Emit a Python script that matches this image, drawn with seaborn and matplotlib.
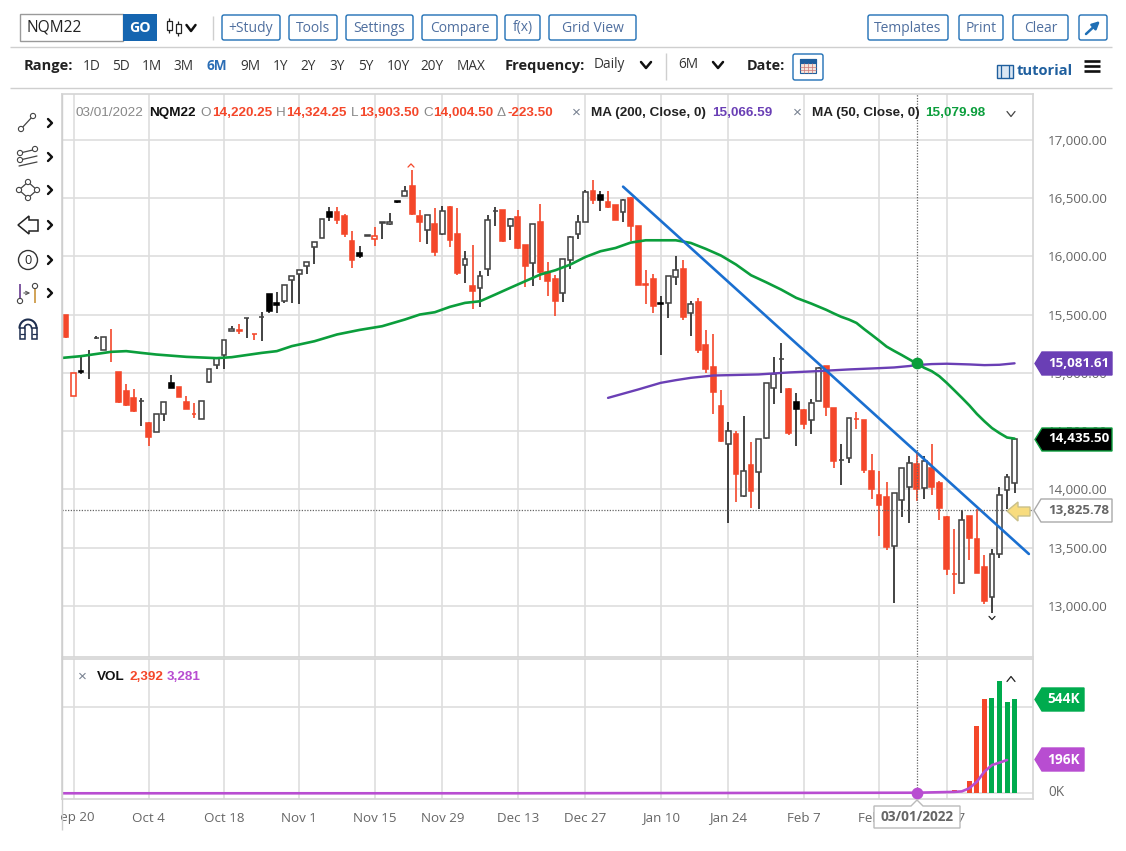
import numpy as np
import pandas as pd
import matplotlib
matplotlib.use("Agg")
import matplotlib.pyplot as plt
import seaborn as sns
from matplotlib.patches import Rectangle, Polygon, Circle, FancyBboxPatch

# --- price bars ---
opens = [15500,14797,15014,15155,15295,15200,15182,15006,14843,14786,14757,14572,14492,14649,14909,14877,14752,14645,14600,14920,
         15063,15151,15363,15365,15467,15333,15481,15680,15600,15614,15800,15846,15914,16080,16154,16377,16377,16343,16129,16029,
         16178,16146,16289,16277,16474,16517,16606,16346,16223,16274,16191,16420,16189,15923,15749,15729,15891,16387,16400,16260,
         16337,16094,15943,16294,15863,15809,15689,15971,16189,16297,16557,16529,16466,16437,16380,16500,16257,15760,15803,15596,
         15600,15823,15891,15509,15609,15240,15049,14714,14386,14477,13943,14211,14151,14440,14874,15115,14857,14749,14680,14594,
         14757,15057,14700,14252,14271,14602,14594,14157,13951,13934,13514,13906,14023,14220.25,14009,14186,14057,13763,13273,13197,
         13771,13571,13334,13080,13443,13991,14057]
highs = [15500,15000,15143,15200,15314,15306,15377,15006,14906,14857,14786,14577,14643,14749,14980,14877,14800,14743,14754,15029,
         15126,15280,15400,15420,15469,15333,15520,15680,15691,15751,15829,15886,15951,16120,16317,16423,16423,16366,16214,16086,
         16186,16251,16291,16371,16477,16606,16743,16394,16351,16414,16429,16429,16414,16043,16100,15871,16351,16423,16400,16329,
         16394,16100,16280,16449,15949,15843,15977,16171,16357,16571,16651,16557,16557,16437,16494,16506,16257,15886,15849,15657,
         15829,16000,15971,15614,15643,15371,15334,14851,14577,14500,14629,14406,14434,14909,15137,15257,14869,14823,14686,14777,
         15051,15057,14700,14391,14614,14666,14594,14300,14157,14066,13966,14183,14286,14324.25,14286,14386,14071,13771,13663,13823,
         13771,13829,13437,13486,14023,14129,14435.5]
lows = [15300,14797,14994,14951,15286,15200,15091,14743,14714,14666,14543,14372,14492,14586,14866,14792,14686,14614,14600,14914,
        15029,15034,15363,15329,15300,15280,15277,15514,15509,15600,15600,15594,15851,15937,16154,16300,16280,16166,15900,15986,
        16174,16086,16149,16271,16460,16517,16357,16120,16109,16000,16186,16077,15843,15771,15549,15566,15834,16257,16123,16137,
        16066,15737,15743,15794,15657,15491,15606,15891,16149,16297,16449,16386,16414,16314,16291,16129,15750,15594,15509,15149,
        15474,15757,15457,15314,15171,15000,14649,14409,13709,13891,13937,13843,13834,14434,14734,14829,14463,14371,14514,14471,
        14757,14629,14186,14040,14229,14514,14137,13914,13600,13480,13029,13766,13709,13903.5,13914,13951,13734,13266,13106,13191,
        13391,13280,13014,12943,13414,13829,13966]
closes = [15309,15000,15006,15157,15300,15306,15180,14749,14723,14672,14760,14449,14643,14749,14872,14792,14686,14643,14754,15029,
          15126,15280,15380,15363,15469,15331,15483,15531,15580,15751,15829,15886,15951,16120,16317,16334,16309,16194,15966,16000,
          16180,16174,16291,16297,16463,16560,16363,16297,16351,16040,16386,16137,15854,15980,15706,15831,16309,16389,16134,16320,
          16071,15914,16280,15863,15786,15614,15977,16166,16294,16554,16480,16483,16423,16314,16480,16263,15757,15757,15571,15594,
          15829,15880,15480,15589,15200,15029,14834,14417,14500,14134,14157,13983,14434,14909,14994,15117,14486,14686,14557,14737,
          15043,14706,14243,14254,14614,14600,14166,14000,13863,13506,13966,14183,14229,14004.5,14243,14023,13837,13314,13271,13734,
          13580,13286,13043,13449,13949,14109,14435.5]
# r = close under the previous close, k = above it
bar_colors = ("rrkkkkrrrrkrkkkrrrkk" "kkkrkrkkkkkkkkkkrrrk" "krkkkkrrkrkrrkrkkkrk" "rrkrrrkkkkrkrrkrrrrk"
              "kkrkrrrrkrkrkkkkrkrk" "krrkkrrrrrkkkrkrrrrk" "rrrkkkk")

ma50_bars = [-1,2,6,8,10,12,16,20,22,26,28,30,33,36,39,42,45,47,49,51,53,55,57,59,61,63,65,67,69,71,73,75,77,81,83,85,87,89,91,93,95,97,99,101,
             102,103,104,105,106,107,108,109,110,111,112,113,114,115,116,117,118,119,120,121,122,123,124,125,126]
ma50_vals = [15125,15143,15180,15186,15171,15157,15137,15126,15134,15171,15186,15229,15271,15329,15368,15400,15457,15500,15520,15566,15600,15614,15671,15729,15786,15843,15880,15929,15994,16043,16071,16117,16137,16137,16114,16063,16006,15929,15837,15777,15714,15643,15594,15540,
             15509,15480,15457,15428,15376,15327,15277,15225,15188,15153,15116,15079.98,15043,15014,14971,14913,14850,14786,14720,14647,14584,14526,14483,14445,14435.5]
ma200_bars = [72,76,79,81,83,86,88,92,96,100,104,108,110,112,113,115,117,120,122,124,126]
ma200_vals = [14785,14857,14914,14937,14957,14977,14980,14986,15003,15015,15029,15040,15046,15058,15066.59,15075,15078,15072,15066,15069,15081.61]

trend_bars = [74, 127.9]
trend_vals = [16597, 13446]

vol_bars = [113,118,119,120,121,122,123,124,125,126]
vol_vals = [2.392,19,4,71,388,544,548,650,525,544]
vol_colors = ["r","r","g","r","r","r","g","g","g","g"]
volma_bars = [-1,60,113,118,119,120,121,122,123,124,125]
volma_vals = [0,0,3.281,8,11,29,67,125,163,177,192]

tick_bars = [1,11,21,31,41,50,60,69,79,88,98,108,117]
tick_labels = ["Sep 20","Oct 4","Oct 18","Nov 1","Nov 15","Nov 29","Dec 13","Dec 27","Jan 10","Jan 24","Feb 7","Feb 21","Mar 7"]
price_ticks = [13000,13500,14000,14500,15000,15500,16000,16500,17000]

RED = "#f4472a"
GREEN = "#00ab4e"
MAGENTA = "#b84dd1"
PURPLE = "#6a3fb5"
BLUE = "#1f5f9e"
GRID = "#dedede"
W, H = 1126, 851

sns.set_theme(style="whitegrid", rc={"grid.color": GRID, "grid.linewidth": 1.2, "axes.edgecolor": "#d6d6d6"})
plt.rcParams['font.family'] = ['Open Sans', 'DejaVu Sans']

fig = plt.figure(figsize=(W / 100, H / 100), dpi=100)

def px_axes(left, top, right, bottom, **kw):
    return fig.add_axes([left / W, 1 - bottom / H, (right - left) / W, (bottom - top) / H], **kw)

ax = px_axes(62, 94, 1033, 657)
vax = px_axes(62, 659, 1033, 799)
XLIM = (-0.53, 128.45)

# --- candles ---
x = np.arange(len(opens))
wick = [RED if c == "r" else "#222222" for c in bar_colors]
ax.vlines(x, lows, highs, colors=wick, linewidth=1.2, zorder=3)
for i in x:
    edge = RED if bar_colors[i] == "r" else ("#444444" if closes[i] >= opens[i] else "black")
    fill = "white" if closes[i] >= opens[i] else (RED if bar_colors[i] == "r" else "black")
    ax.bar(i, abs(closes[i] - opens[i]), bottom=min(opens[i], closes[i]), width=0.64,
           facecolor=fill, edgecolor=edge, linewidth=1.15, zorder=4)

df50 = pd.DataFrame({"bar": ma50_bars, "val": ma50_vals})
df200 = pd.DataFrame({"bar": ma200_bars, "val": ma200_vals})
dft = pd.DataFrame({"bar": trend_bars, "val": trend_vals})
sns.lineplot(data=df200, x="bar", y="val", color=PURPLE, linewidth=1.7, ax=ax, zorder=5)
sns.lineplot(data=df50, x="bar", y="val", color="#0b9e3c", linewidth=1.9, ax=ax, zorder=5)
sns.lineplot(data=dft, x="bar", y="val", color="#1a6fd0", linewidth=1.9, ax=ax, zorder=6)

ax.set_xlim(*XLIM)
ax.set_ylim(12562, 17392)
ax.set_xticks(tick_bars)
ax.set_xticklabels([])
ax.set_yticks(price_ticks)
ax.set_yticklabels([f"{v:,.2f}" for v in price_ticks], color="#666666", fontsize=9.6)
ax.yaxis.tick_right()
ax.tick_params(axis="y", length=0, pad=11)
ax.tick_params(axis="x", length=0)
ax.set_xlabel("")
ax.set_ylabel("")

# crosshair and last price line
ax.axvline(113, color="#666666", lw=0.9, ls=(0, (1, 1.2)), zorder=7)
ax.axhline(13825.78, color="#666666", lw=0.9, ls=(0, (1, 1.2)), zorder=7)
ax.scatter([113], [15079.98], s=55, color="#0b9e3c", zorder=8)

# --- volume panel ---
dfv = pd.DataFrame({"bar": vol_bars, "vol": vol_vals, "side": vol_colors})
sns.barplot(data=dfv, x="bar", y="vol", hue="side", palette={"r": RED, "g": GREEN}, native_scale=True,
            dodge=False, width=0.66, saturation=1, linewidth=0, legend=False, ax=vax, zorder=3)
dfm = pd.DataFrame({"bar": volma_bars, "val": volma_vals})
sns.lineplot(data=dfm, x="bar", y="val", color=MAGENTA, linewidth=1.9, ax=vax, zorder=5)
vax.set_xlim(*XLIM)
vax.set_ylim(-33, 775)
vax.set_xticks(tick_bars)
vax.set_xticklabels(tick_labels, color="#666666", fontsize=9.6)
vax.set_yticks([0, 500])
vax.set_yticklabels([])
vax.tick_params(axis="x", length=6, width=1.2, color=GRID, pad=3)
vax.tick_params(axis="y", length=0)
vax.set_xlabel("")
vax.set_ylabel("")
vax.axvline(113, color="#666666", lw=0.9, ls=(0, (1, 1.2)), zorder=2)
vax.scatter([113], [3.281], s=55, color=MAGENTA, zorder=8)

# --- page chrome, in pixel coordinates ---
ui = fig.add_axes([0, 0, 1, 1], facecolor="none")
ui.set_xlim(0, W)
ui.set_ylim(H, 0)
ui.axis("off")
ui.grid(False)

def label(px, py, s, color="#333333", size=9.8, weight="normal", ha="left", family=None, **kw):
    ui.text(px, py, s, color=color, fontsize=size, fontweight=weight, ha=ha, va="center", zorder=10,
            family=family or ['Open Sans', 'DejaVu Sans'], **kw)

def hline(x0, x1, y, color="#cfcfcf", lw=1.0):
    ui.plot([x0, x1], [y, y], color=color, lw=lw, solid_capstyle="butt")

def vline(px, y0, y1, color="#cfcfcf", lw=1.0):
    ui.plot([px, px], [y0, y1], color=color, lw=lw, solid_capstyle="butt")

def chevron(px, py, w=4, h=3, color="#111111", lw=1.6, up=False):
    s = -1 if up else 1
    ui.plot([px - w, px, px + w], [py - s * h, py + s * h, py - s * h], color=color, lw=lw)

def side_chevron(px, py):
    ui.plot([px - 2, px + 2, px - 2], [py - 4, py, py + 4], color="#111111", lw=1.7)

def circle(px, py, r=2.6, edge="#444444"):
    ui.add_patch(Circle((px, py), r, facecolor="white", edgecolor=edge, lw=0.8, zorder=6))

def tag(x0, x1, y0, y1, fill, edge=None, tip=7):
    ym = (y0 + y1) / 2
    ui.add_patch(Polygon([(x0, ym), (x0 + tip, y0), (x1, y0), (x1, y1), (x0 + tip, y1)],
                         closed=True, facecolor=fill, edgecolor=edge or fill, lw=1.0, zorder=9))

# hide the part of the first x label that runs out of the chart
ui.add_patch(Rectangle((30, 801), 31, 26, facecolor="white", edgecolor="none", zorder=2))
vline(62, 94, 830)

# first toolbar row
ui.add_patch(Rectangle((20, 14), 103, 27, facecolor="white", edgecolor="#9a9a9a", lw=1.0))
label(27, 28, "NQM22", color="#222222", size=11.2)
ui.add_patch(Rectangle((123, 14), 34, 27, facecolor="#1565b0", edgecolor="none"))
label(140, 28, "GO", color="white", size=10.2, weight="bold", ha="center")
for cx, top, bot in [(169, 21, 30), (178, 24, 33)]:
    vline(cx, top - 3, bot + 3, color="#222222", lw=0.9)
    ui.add_patch(Rectangle((cx - 2.5, top), 5, bot - top, facecolor="white", edgecolor="#222222", lw=0.9, zorder=4))
chevron(191, 28, w=4.5, h=3, lw=1.8)
vline(213, 16, 40)

buttons = [(221, 281, "+Study"), (288, 338, "Tools"), (345, 414, "Settings"), (421, 498, "Compare"),
           (504, 541, "f(x)"), (548, 637, "Grid View"), (867, 949, "Templates"), (958, 1004, "Print"), (1012, 1069, "Clear")]
for x0, x1, s in buttons:
    ui.add_patch(FancyBboxPatch((x0 + 1, 15), x1 - x0 - 2, 25, boxstyle="round,pad=0,rounding_size=2",
                                facecolor="white", edgecolor="#1f6fb5", lw=1.0))
    label((x0 + x1) / 2, 28, s, color="#4f6f9f", size=10, ha="center")
ui.add_patch(FancyBboxPatch((1079, 15), 28, 25, boxstyle="round,pad=0,rounding_size=2",
                            facecolor="white", edgecolor="#1f6fb5", lw=1.0))
ui.annotate("", xy=(1100, 21), xytext=(1086, 34), arrowprops=dict(arrowstyle="-|>", color="#1f6fb5", lw=1.8, mutation_scale=11, shrinkA=0, shrinkB=0))
hline(10, 1112, 47)

# second toolbar row
label(24, 66, "Range:", color="#222222", weight="bold", size=10.5)
ranges = [(92, "1D"), (121, "5D"), (152, "1M"), (184, "3M"), (217, "6M"), (250, "9M"), (280, "1Y"), (308, "2Y"),
          (337, "3Y"), (366, "5Y"), (398, "10Y"), (432, "20Y"), (471, "MAX")]
for px, s in ranges:
    if s == "6M":
        label(px, 66, s, color="#2a6db5", weight="bold", size=9.8, ha="center")
    else:
        label(px, 66, s, color="#333333", size=9.8, ha="center")
label(505, 66, "Frequency:", color="#222222", weight="bold", size=10.5)
label(594, 65, "Daily", color="#333333", size=9.8)
chevron(646, 65, w=5, h=3, lw=1.8)
vline(666, 53, 80)
label(678, 65, "6M", color="#333333", size=9.8)
chevron(718, 65, w=5, h=3, lw=1.8)
label(747, 66, "Date:", color="#222222", weight="bold", size=10.4)
ui.add_patch(FancyBboxPatch((793, 54), 30, 26, boxstyle="round,pad=0,rounding_size=2",
                            facecolor="white", edgecolor="#1f6fb5", lw=1.0))
ui.add_patch(Rectangle((800, 59), 16, 14, facecolor="#f5e6dc", edgecolor="#1f5f9e", lw=0.8))
ui.add_patch(Rectangle((800, 59), 16, 4, facecolor="#1f5f9e", edgecolor="#1f5f9e", lw=0.8))
for px in [804, 808, 812]:
    vline(px, 63, 73, color="#c77", lw=0.5)
for py in [66.5, 70]:
    hline(800, 816, py, color="#c77", lw=0.5)
ui.add_patch(Rectangle((997, 65), 16, 13, facecolor="#dbe7f3", edgecolor=BLUE, lw=1.0))
vline(1001, 65, 78, color=BLUE, lw=0.9)
vline(1009, 65, 78, color=BLUE, lw=0.9)
label(1017, 71, "tutorial", color=BLUE, weight="bold", size=10.6)
for py in [61, 66, 71]:
    hline(1084, 1100, py, color="#111111", lw=1.9)
hline(10, 1112, 88)

# left tool strip
icon = "#444444"
ui.plot([21, 33], [129, 116], color=icon, lw=0.9)
circle(21, 129); circle(33, 116)
ui.plot([20, 37], [153, 149], color=icon, lw=0.9)
ui.plot([20, 37], [160, 156], color=icon, lw=0.9)
ui.plot([19, 37], [166, 162], color=icon, lw=0.9)
circle(20, 153); circle(35, 149); circle(20, 160)
ui.add_patch(Polygon([(28, 182), (37, 190), (28, 198), (19, 190)], closed=True, fill=False, edgecolor=icon, lw=0.9))
circle(28, 182); circle(37, 190); circle(28, 198); circle(19, 190)
ui.add_patch(Polygon([(18, 225), (29, 216), (29, 220), (38, 220), (38, 231), (29, 231), (29, 234)],
                     closed=True, facecolor="white", edgecolor="#222222", lw=1.1))
ui.add_patch(Circle((28, 260), 9.5, facecolor="white", edgecolor="#333333", lw=1.0))
ui.text(28, 260, "0", fontsize=9.2, ha="center", va="center", color="#222222")
vline(20, 284, 301, color="#5b2a86", lw=1.1)
vline(35, 288, 303, color="#c58a2a", lw=1.1)
ui.annotate("", xy=(33, 293), xytext=(21, 293), arrowprops=dict(arrowstyle="->", color="#555555", lw=0.8, mutation_scale=6))
circle(20, 301); circle(35, 286)
theta = np.linspace(np.pi, 2 * np.pi, 30)
ui.plot(28 + 8.5 * np.cos(theta), 328 + 8.5 * np.sin(theta), color="#1f2f4f", lw=1.5)
ui.plot(28 + 3.5 * np.cos(theta), 328 + 3.5 * np.sin(theta), color="#1f2f4f", lw=1.2)
for px0 in [19.5, 31.5]:
    ui.add_patch(Rectangle((px0, 328), 5, 11, facecolor="white", edgecolor="#1f2f4f", lw=1.1))
    hline(px0, px0 + 5, 334, color="#1f2f4f", lw=0.9)
for py in [123, 157, 190, 225, 260, 293]:
    side_chevron(50, py)

# quote line at the top of the chart
LS = ['Liberation Sans', 'DejaVu Sans']
label(75, 113, "03/01/2022", color="#888888", size=9.7, family=LS)
label(149, 113, "NQM22", color="#111111", size=9.7, weight="bold", family=LS)
for px, s in [(200, "O"), (276, "H"), (351, "L"), (423, "C"), (497, "Δ")]:
    label(px, 113, s, color="#888888", size=9.7, family=LS)
for px, s in [(212, "14,220.25"), (286, "14,324.25"), (359, "13,903.50"), (433, "14,004.50"), (507, "-223.50")]:
    label(px, 113, s, color=RED, size=9.7, weight="bold", family=LS)
label(576, 113, "×", color="#778090", size=11, family=LS, ha="center")
label(591, 113, "MA (200, Close, 0)", color="#222222", size=9.7, weight="bold", family=LS)
label(712, 113, "15,066.59", color=PURPLE, size=9.7, weight="bold", family=LS)
label(797, 113, "×", color="#778090", size=11, family=LS, ha="center")
label(812, 113, "MA (50, Close, 0)", color="#222222", size=9.7, weight="bold", family=LS)
label(925, 113, "15,079.98", color="#0b9e3c", size=9.7, weight="bold", family=LS)
chevron(1011, 114, w=4, h=2.5, color="#444444", lw=0.9)

# volume legend
label(82, 677, "×", color="#778090", size=11, family=LS, ha="center")
label(97, 677, "VOL", color="#111111", size=9.7, weight="bold", family=LS)
label(129, 677, "2,392", color=RED, size=9.7, weight="bold", family=LS)
label(167, 677, "3,281", color=MAGENTA, size=9.7, weight="bold", family=LS)
chevron(1011, 679, w=4, h=2.5, color="#222222", lw=0.9, up=True)

# high / low marks
chevron(411, 165.5, w=3, h=1.6, color=RED, lw=0.9, up=True)
chevron(992, 618, w=3, h=1.6, color="#222222", lw=0.9)

# right side price tags
tag(1035, 1112, 352, 375, PURPLE)
label(1048, 363.5, "15,081.61", color="white", size=9.6, weight="bold")
tag(1035, 1112, 428, 451, "black", edge="#0b9e3c")
label(1048, 439, "14,435.50", color="white", size=9.6, weight="bold")
tag(1034, 1112, 499, 522, "white", edge="#aaaaaa")
label(1048, 510.5, "13,825.78", color="#666666", size=9.6, weight="bold")
tag(1035, 1084, 688, 711, GREEN)
label(1047, 699, "544K", color="white", size=9.8, weight="bold")
tag(1035, 1084, 748, 771, MAGENTA)
label(1047, 759.5, "196K", color="white", size=9.8, weight="bold")
label(1048, 793, "0K", color="#666666", size=9.8)

# last price arrow
ui.add_patch(Polygon([(1007, 511), (1018, 502), (1018, 507), (1030, 507), (1030, 516), (1018, 516), (1018, 521)],
                     closed=True, facecolor="#f8dc7e", edgecolor="#c9c08a", lw=1.0, zorder=8))

# date tag under the crosshair
ui.add_patch(Polygon([(874, 806), (911, 806), (917, 800), (923, 806), (960, 806), (960, 828), (874, 828)],
                     closed=True, facecolor="white", edgecolor="#bbbbbb", lw=1.0, zorder=9))
label(917, 817, "03/01/2022", color="#666666", size=9.8, weight="bold", ha="center")

fig.savefig("out.png", dpi=100, facecolor="white")
